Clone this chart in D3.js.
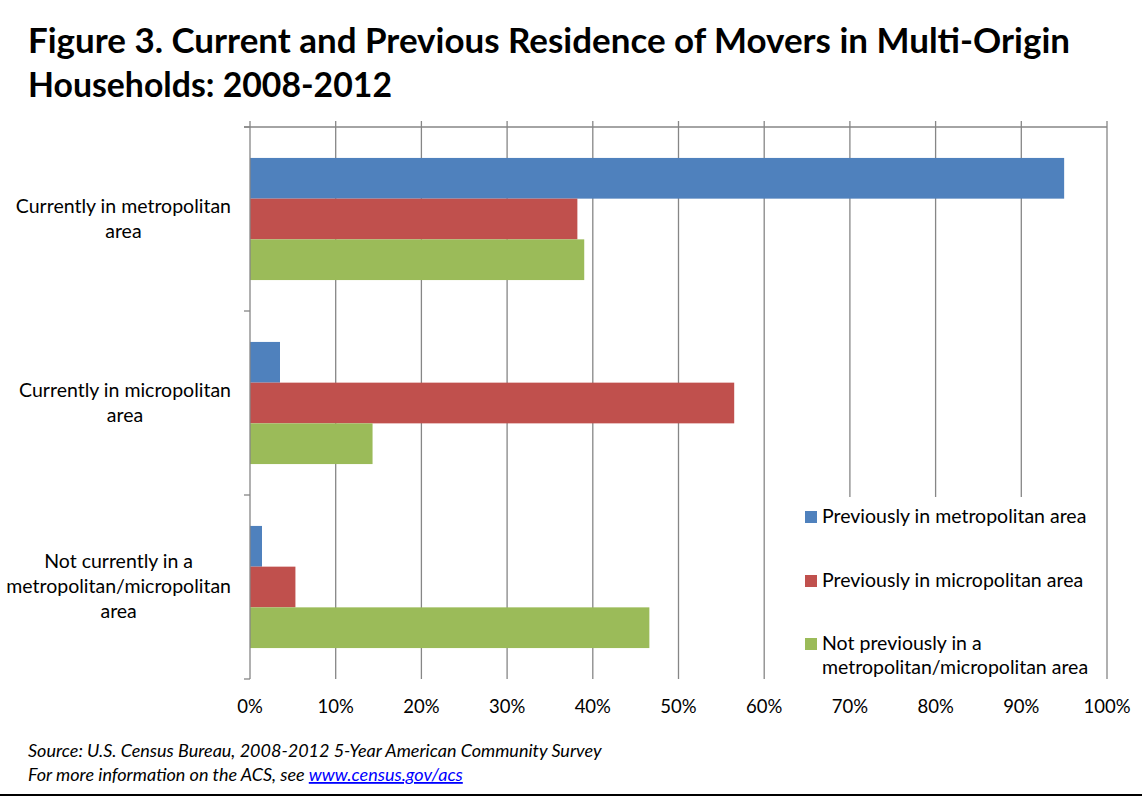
<!DOCTYPE html>
<html>
<head>
<meta charset="utf-8">
<script src="https://cdn.jsdelivr.net/npm/d3@7"></script>
<style>
  body { margin: 0; background: #fff; }
  svg { display: block; }
  .cat-label, .tick-label, .legend-label { font-family: Lato, "Noto Sans", sans-serif; fill: #000; }
  .source { font-family: Lato, "Noto Sans", sans-serif; font-style: italic; fill: #000; }
</style>
</head>
<body>
<div id="chart"></div>
<script>
// data
const categories = [
  ['Currently in metropolitan', 'area'],
  ['Currently in micropolitan', 'area'],
  ['Not currently in a', 'metropolitan/micropolitan', 'area']
];
const seriesNames = [
  'Previously in metropolitan area',
  'Previously in micropolitan area',
  'Not previously in a metropolitan/micropolitan area'
];
const prevMetro = [0.950, 0.035, 0.014];
const prevMicro = [0.382, 0.565, 0.053];
const prevNone  = [0.390, 0.143, 0.466];
const xTicks = [0, 0.1, 0.2, 0.3, 0.4, 0.5, 0.6, 0.7, 0.8, 0.9, 1.0];

// chart static params
const width = 1142, height = 796;
const colors = ['#4F81BD', '#C0504D', '#9BBB59'];
const gridColor = '#868686';
const plot = {left: 250, right: 1107, top: 127, bottom: 679};

const svg = d3.select('#chart')
  .append('svg')
    .attr('width', width)
    .attr('height', height);

// title
const title = svg.append('g')
  .attr('font-family', 'Lato, "Noto Sans", sans-serif')
  .attr('font-weight', 'bold')
  .attr('font-size', 34);
title.append('text').attr('x', 28).attr('y', 53)
  .attr('textLength', 1042).attr('lengthAdjust', 'spacingAndGlyphs')
  .text('Figure 3. Current and Previous Residence of Movers in Multi-Origin');
title.append('text').attr('x', 28).attr('y', 97)
  .attr('textLength', 364).attr('lengthAdjust', 'spacingAndGlyphs')
  .text('Households: 2008-2012');

// scales
const x = d3.scaleLinear().domain([0, 1]).range([plot.left, plot.right]);
const y0 = d3.scaleBand()
  .domain(d3.range(categories.length))
  .range([plot.top, plot.bottom])
  .paddingInner(0).paddingOuter(0);
const y1 = d3.scaleBand()
  .domain(d3.range(seriesNames.length))
  .range([0, y0.bandwidth()])
  .paddingInner(0).paddingOuter(0.76);

// gridlines
svg.append('g')
  .selectAll('line')
  .data(xTicks.slice(1))
  .join('line')
    .attr('x1', d => x(d)).attr('x2', d => x(d))
    .attr('y1', plot.top - 6).attr('y2', plot.bottom)
    .attr('stroke', gridColor).attr('stroke-width', 1.3);

// top value axis line
svg.append('line')
  .attr('x1', plot.left - 6).attr('x2', plot.right)
  .attr('y1', plot.top).attr('y2', plot.top)
  .attr('stroke', gridColor).attr('stroke-width', 1.3);

// bars
const seriesValues = [prevMetro, prevMicro, prevNone];
const barData = [];
categories.forEach((c, i) => {
  seriesValues.forEach((vals, s) => barData.push({cat: i, series: s, value: vals[i]}));
});
svg.append('g')
  .selectAll('rect')
  .data(barData)
  .join('rect')
    .attr('x', x(0))
    .attr('y', d => y0(d.cat) + y1(d.series))
    .attr('width', d => x(d.value) - x(0))
    .attr('height', y1.bandwidth())
    .attr('fill', d => colors[d.series]);

// category axis
svg.append('line')
  .attr('x1', plot.left).attr('x2', plot.left)
  .attr('y1', plot.top - 6).attr('y2', plot.bottom)
  .attr('stroke', gridColor).attr('stroke-width', 1.3);
const catTicks = y0.domain().map(d => y0(d)).concat([plot.bottom]);
svg.append('g')
  .selectAll('line')
  .data(catTicks)
  .join('line')
    .attr('x1', plot.left - 6).attr('x2', plot.left)
    .attr('y1', d => d).attr('y2', d => d)
    .attr('stroke', gridColor).attr('stroke-width', 1.3);

// category labels, centred on their widest line which ends near x=230
const catLineH = 25;
categories.forEach((lines, i) => {
  const cy = y0(i) + y0.bandwidth() / 2;
  const g = svg.append('g').attr('class', 'cat-label').attr('font-size', 19.5);
  const texts = lines.map((ln, k) => g.append('text')
    .attr('y', cy + 6 + (k - (lines.length - 1) / 2) * catLineH)
    .attr('text-anchor', 'middle')
    .text(ln));
  const maxW = d3.max(texts, t => t.node().getComputedTextLength());
  texts.forEach(t => t.attr('x', 231 - maxW / 2));
});

// x tick labels (bottom)
svg.append('g')
  .selectAll('text')
  .data(xTicks)
  .join('text')
    .attr('class', 'tick-label')
    .attr('font-size', 18.5)
    .attr('text-anchor', 'middle')
    .attr('x', d => x(d))
    .attr('y', 713)
    .text(d3.format('.0%'));

// legend
const legend = svg.append('g');
legend.append('rect')
  .attr('x', 790).attr('y', 497).attr('width', 310).attr('height', 183)
  .attr('fill', '#fff');
const legendRows = [
  {y: 523, lines: [seriesNames[0]]},
  {y: 587, lines: [seriesNames[1]]},
  {y: 650, lines: ['Not previously in a', 'metropolitan/micropolitan area']}
];
legendRows.forEach((r, i) => {
  legend.append('rect')
    .attr('x', 805).attr('y', r.y - 12).attr('width', 12).attr('height', 12)
    .attr('fill', colors[i]);
  r.lines.forEach((ln, k) => {
    legend.append('text')
      .attr('class', 'legend-label')
      .attr('font-size', 19.5)
      .attr('x', 822).attr('y', r.y + k * 24)
      .text(ln);
  });
});

// source notes
svg.append('text')
  .attr('class', 'source').attr('font-size', 18)
  .attr('x', 28).attr('y', 757)
  .text('Source: U.S. Census Bureau, 2008-2012 5-Year American Community Survey');
const note = svg.append('text')
  .attr('class', 'source').attr('font-size', 18)
  .attr('x', 28).attr('y', 781);
note.append('tspan').text('For more information on the ACS, see ');
note.append('tspan')
  .attr('fill', '#0000FF')
  .attr('text-decoration', 'underline')
  .text('www.census.gov/acs');

// bottom border
svg.append('rect')
  .attr('x', 0).attr('y', 794).attr('width', width).attr('height', 2)
  .attr('fill', '#000');
</script>
</body>
</html>
